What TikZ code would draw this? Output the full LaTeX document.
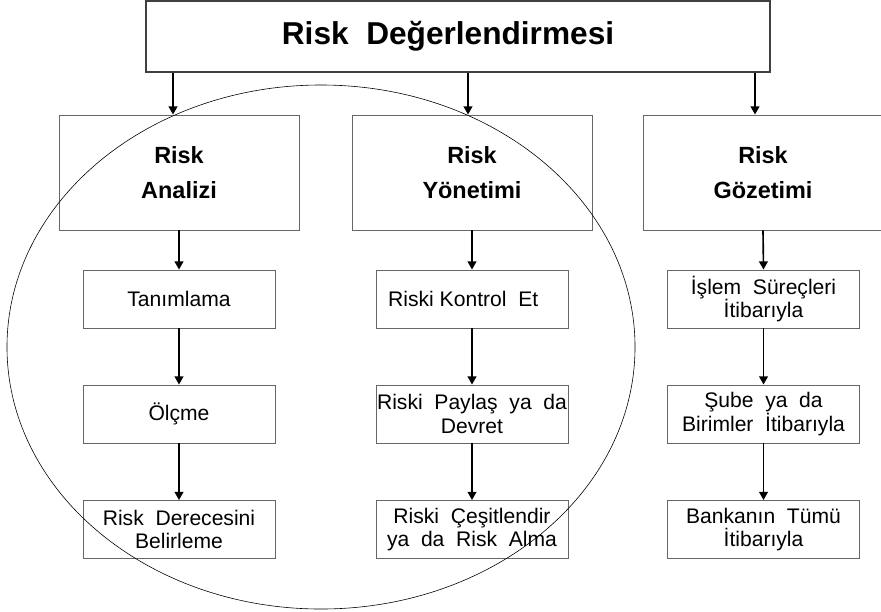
\documentclass[tikz,border=0pt]{standalone}
\usepackage{fontspec}
\setmainfont{Liberation Sans}
\usepackage{tikz}
\usetikzlibrary{arrows.meta, calc}

\begin{document}
\begin{tikzpicture}[x=0.03cm, y=-0.03cm,
  headbox/.style={draw=black!75, line width=1.5pt, minimum width=18.72cm, minimum height=2.13cm,
    inner sep=0pt, font=\bfseries\fontsize{27}{30}\selectfont},
  bigbox/.style={draw=black!60, line width=0.8pt, minimum width=7.2cm, minimum height=3.45cm,
    inner sep=0pt, align=center, font=\bfseries\fontsize{20}{30}\selectfont},
  subbox/.style={draw=black!60, line width=0.8pt, minimum width=5.76cm, minimum height=1.74cm,
    inner sep=0pt, align=center, font=\fontsize{18}{20}\selectfont},
  arr/.style={line width=1.4pt, -{Triangle[length=7pt, width=7.5pt]}}]
  \useasboundingbox (0,0) rectangle (881,611);
  % top box
  \node[headbox] (top) at (458,36.5) {Risk~~Değerlendirmesi\hspace*{17pt}};
  % three main steps
  \node[bigbox] (analiz) at (179,172.5) {Risk\\Analizi};
  \node[bigbox] (yonetim) at (472,172.5) {Risk\\Yönetimi};
  \node[bigbox] (gozetim) at (763,172.5) {Risk\\Gözetimi};
  % sub steps, left column
  \node[subbox] (tanim) at (179,299) {Tanımlama};
  \node[subbox] (olcme) at (179,414) {Ölçme};
  \node[subbox] (derece) at (179,529.5) {Risk~~Derecesini\\Belirleme};
  % middle column
  \node[subbox] (kontrol) at (472,299) {Riski Kontrol~~Et\hspace*{15pt}};
  \node[subbox] (paylas) at (472,414) {Riski~~Paylaş~~ya~~da\\Devret};
  \node[subbox] (cesit) at (472,529.5) {Riski~~Çeşitlendir\\ya~~da~~Risk~~Alma};
  % right column
  \node[subbox] (islem) at (763.5,299) {İşlem~~Süreçleri\\İtibarıyla};
  \node[subbox] (sube) at (763.5,414) {Şube~~ya~~da\\Birimler~~İtibarıyla};
  \node[subbox] (banka) at (763.5,529.5) {Bankanın~~Tümü\\İtibarıyla};
  % arrows from the top box
  \coordinate (a1) at ($(analiz.north)+(-6,0)$);
  \coordinate (a2) at ($(yonetim.north)+(-4,0)$);
  \coordinate (a3) at ($(gozetim.north)+(-8,0)$);
  \draw[arr] (top.south -| a1) -- (a1);
  \draw[arr] (top.south -| a2) -- (a2);
  \draw[arr] (top.south -| a3) -- (a3);
  % arrows down the columns
  \draw[arr] (analiz.south) -- (tanim.north);
  \draw[arr] (tanim.south) -- (olcme.north);
  \draw[arr] (olcme.south) -- (derece.north);
  \draw[arr] (yonetim.south) -- (kontrol.north);
  \draw[arr] (kontrol.south) -- (paylas.north);
  \draw[arr] (paylas.south) -- (cesit.north);
  \draw[arr] (gozetim.south) -- (islem.north);
  \draw[arr] (islem.south) -- (sube.north);
  \draw[arr] (sube.south) -- (banka.north);
  % ellipse round analysis and management
  \draw[line width=0.5pt] (321,347) ellipse [x radius=9.42cm, y radius=7.86cm];
\end{tikzpicture}
\end{document}
